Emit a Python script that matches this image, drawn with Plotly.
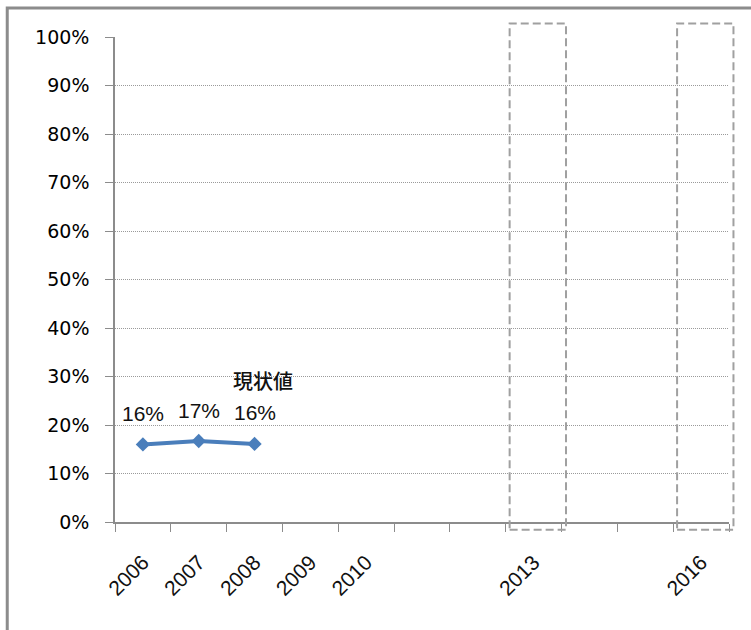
import plotly.graph_objects as go

years = ["2006", "2007", "2008", "2009", "2010", "2011", "2012", "2013", "2014", "2015", "2016"]
tick_labels = ["2006", "2007", "2008", "2009", "2010", "", "", "2013", "", "", "2016"]
series_years = ["2006", "2007", "2008"]
series_values = [0.16, 0.167, 0.161]
current_label = "現状値"
target_years = ["2013", "2016"]

blue = "#4a7ebb"
grey = "#8c8c8c"
n = len(years)

fig = go.Figure()
fig.add_trace(go.Scatter(
    x=series_years, y=series_values, mode="lines+markers",
    line=dict(color=blue, width=4),
    marker=dict(symbol="diamond", size=11, color=blue),
    showlegend=False, hoverinfo="skip",
))

annotations = []
for x, v in zip(series_years, series_values):
    annotations.append(dict(x=years.index(x), y=v, xref="x", yref="y", text=f"{v:.0%}",
                            showarrow=False, yshift=31,
                            font=dict(family="Liberation Sans", size=21, color="#111111")))
annotations.append(dict(x=years.index(series_years[-1]), y=series_values[-1], xref="x", yref="y",
                        text=current_label, showarrow=False, xshift=8, yshift=63,
                        font=dict(family="Noto Sans CJK JP", size=20, color="#111111", weight=500)))

shapes = []
for ty in target_years:
    i = years.index(ty)
    shapes.append(dict(type="rect", xref="paper", yref="paper",
                       x0=(i + 0.07) / n, x1=(i + 1.08) / n, y0=-0.016, y1=1.028,
                       line=dict(color="#a0a0a0", width=2, dash="8px,4px"),
                       fillcolor="rgba(0,0,0,0)"))
shapes.append(dict(type="rect", xref="paper", yref="paper",
                   x0=-0.1755, x1=1.2, y0=-0.4, y1=1.0598,
                   line=dict(color=grey, width=3), fillcolor="rgba(0,0,0,0)", layer="below"))

fig.update_layout(
    width=751, height=630,
    margin=dict(l=115, r=22, t=37, b=108),
    paper_bgcolor="white", plot_bgcolor="white",
    showlegend=False,
    annotations=annotations, shapes=shapes,
)
fig.update_xaxes(
    type="category", categoryorder="array", categoryarray=years,
    tickmode="array", tickvals=years, ticktext=tick_labels,
    range=[-0.5, n - 0.5],
    tickson="boundaries", ticks="outside", ticklen=8, tickcolor=grey,
    showline=True, linecolor=grey, linewidth=1.5,
    showgrid=False, tickangle=-45, ticklabelstandoff=18,
    tickfont=dict(family="Liberation Sans", size=21, color="#111111"),
)
fig.update_yaxes(
    range=[0, 1], dtick=0.1, tickformat=".0%",
    ticks="outside", ticklen=8, tickcolor=grey,
    showline=True, linecolor=grey, linewidth=1.5,
    showgrid=True, gridcolor="#9a9a9a", gridwidth=1, griddash="1px,1px",
    zeroline=False, ticklabelstandoff=12,
    tickfont=dict(family="DejaVu Sans", size=19, color="#000000"),
)

fig.write_html("out.html", config={"displayModeBar": False},
               post_script="document.body.style.margin='0';")
